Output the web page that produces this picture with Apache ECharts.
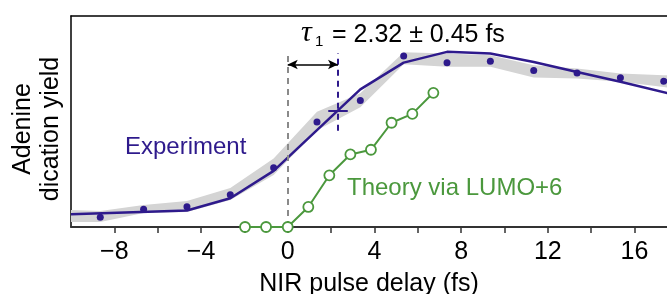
<!DOCTYPE html>
<html>
<head>
<meta charset="utf-8">
<script src="https://cdn.jsdelivr.net/npm/echarts@6/dist/echarts.min.js"></script>
<style>
  html, body { margin: 0; padding: 0; background: #fff; }
  #chart { width: 667px; height: 294px; }
</style>
</head>
<body>
<div id="chart"></div>
<script>
// delays (fs) and yields, yield scaled 0..1 to the plot box
const expX = [-8.65, -6.65, -4.65, -2.65, -0.65, 1.35, 3.35, 5.35, 7.35, 9.35, 11.35, 13.35, 15.35, 17.35];
const expY = [0.046, 0.084, 0.096, 0.153, 0.281, 0.498, 0.600, 0.811, 0.779, 0.786, 0.742, 0.730, 0.707, 0.691];

const fitX = [-10, -4.65, -2.65, -0.65, 3.35, 5.35, 7.35, 9.35, 11.35, 13.35, 15.35, 17.6];
const fitY = [0.060, 0.078, 0.136, 0.266, 0.652, 0.779, 0.830, 0.822, 0.782, 0.735, 0.688, 0.633];

const bandX = [-10, -8.65, -6.65, -4.65, -2.65, -0.65, 1.35, 3.35, 5.35, 7.35, 9.35, 11.35, 13.35, 15.35, 17.35, 17.6];
const bandLo = [0.024, 0.024, 0.066, 0.071, 0.128, 0.246, 0.459, 0.568, 0.771, 0.759, 0.759, 0.708, 0.704, 0.688, 0.664, 0.660];
const bandHi = [0.080, 0.076, 0.104, 0.123, 0.185, 0.325, 0.546, 0.634, 0.828, 0.822, 0.814, 0.767, 0.751, 0.727, 0.719, 0.720];

const theoryX = [-1.97, -1, 0, 0.95, 1.92, 2.89, 3.84, 4.79, 5.75, 6.72];
const theoryY = [0, 0, 0, 0.095, 0.245, 0.344, 0.366, 0.494, 0.536, 0.636];

const tau = 2.32;
const tauErr = 0.45;
const tauY = 0.553;
const arrowY = 0.77;
const dashTop = 0.824;
const tauDashBottom = 0.456;

const xMin = -10, xMax = 17.5, xStep = 2;

const BLUE = '#2e1a8c';
const GREEN = '#4b983d';
const FONT = 'Liberation Sans, Arial, sans-serif';

const chart = echarts.init(document.getElementById('chart'));

const option = {
  animation: false,
  grid: { left: 71, right: 0, top: 16, bottom: 67, outerBoundsMode: 'none', containLabel: false },
  xAxis: [
    {
      type: 'value',
      min: xMin,
      max: xMax,
      interval: xStep,
      name: 'NIR pulse delay (fs)',
      nameLocation: 'middle',
      nameGap: 45,
      nameTextStyle: { fontFamily: FONT, fontSize: 25, color: '#000' },
      axisLine: { onZero: false, lineStyle: { color: '#333', width: 2 } },
      axisTick: { show: true, inside: false, length: 6, lineStyle: { color: '#333', width: 1.5 } },
      axisLabel: {
        fontFamily: FONT, fontSize: 25, color: '#000', margin: 13,
        showMinLabel: false, showMaxLabel: false,
        formatter: v => (v % 4 === 0 ? String(v).replace('-', '\u2212') : '')
      },
      splitLine: { show: false }
    },
    {
      type: 'value',
      position: 'top',
      min: xMin,
      max: xMax,
      axisLine: { show: true, onZero: false, lineStyle: { color: '#000', width: 1.5 } },
      axisTick: { show: false },
      axisLabel: { show: false },
      splitLine: { show: false }
    }
  ],
  yAxis: {
    type: 'value',
    min: 0,
    max: 1,
    axisLine: { show: true, onZero: false, lineStyle: { color: '#000', width: 1.5 } },
    axisTick: { show: false },
    axisLabel: { show: false },
    splitLine: { show: false }
  },
  graphic: [
    {
      type: 'text', x: 37, y: 129, rotation: Math.PI / 2,
      style: {
        text: 'Adenine\ndication yield', fontFamily: FONT, fontSize: 25, lineHeight: 28,
        fill: '#000', align: 'center', verticalAlign: 'middle'
      }
    },
    {
      type: 'text', x: 301, y: 33,
      style: { text: '\u03c4', fontFamily: 'Liberation Serif, serif', fontStyle: 'italic', fontSize: 30, fill: '#000', align: 'left', verticalAlign: 'middle' }
    },
    {
      type: 'text', x: 315, y: 42,
      style: { text: '1', fontFamily: FONT, fontSize: 15, fill: '#000', align: 'left', verticalAlign: 'middle' }
    },
    {
      type: 'text', x: 332, y: 35,
      style: { text: '= ' + tau.toFixed(2) + ' \u00b1 ' + tauErr.toFixed(2) + ' fs', fontFamily: FONT, fontSize: 25, fill: '#000', align: 'left', verticalAlign: 'middle' }
    },
    {
      type: 'text', x: 125, y: 147,
      style: { text: 'Experiment', fontFamily: FONT, fontSize: 24, fill: BLUE, align: 'left', verticalAlign: 'middle' }
    },
    {
      type: 'text', x: 347, y: 188,
      style: { text: 'Theory via LUMO+6', fontFamily: FONT, fontSize: 24, fill: GREEN, align: 'left', verticalAlign: 'middle' }
    }
  ],
  series: [
    {
      name: 'band',
      type: 'custom',
      silent: true,
      clip: true,
      data: [[bandX[0], bandLo[0]]],
      renderItem: (params, api) => {
        const pts = [];
        for (let i = 0; i < bandX.length; i++) pts.push(api.coord([bandX[i], bandHi[i]]));
        for (let i = bandX.length - 1; i >= 0; i--) pts.push(api.coord([bandX[i], bandLo[i]]));
        return { type: 'polygon', shape: { points: pts }, style: { fill: '#d4d4d4' } };
      }
    },
    {
      name: 'marks',
      type: 'line',
      data: [],
      silent: true,
      markLine: {
        silent: true,
        symbol: 'none',
        label: { show: false },
        data: [
          [
            { coord: [0, 0], lineStyle: { color: '#8a8a8a', width: 2, type: [6, 5] } },
            { coord: [0, dashTop] }
          ],
          [
            { coord: [tau, tauDashBottom], lineStyle: { color: BLUE, width: 2, type: [6, 5] } },
            { coord: [tau, dashTop] }
          ],
          [
            { coord: [tau - tauErr, tauY], lineStyle: { color: BLUE, width: 2, type: 'solid' } },
            { coord: [tau + tauErr, tauY] }
          ],
          [
            { coord: [0, arrowY], symbol: 'arrow', symbolSize: [7, 10], lineStyle: { color: '#000', width: 1.5, type: 'solid' } },
            { coord: [tau, arrowY], symbol: 'arrow', symbolSize: [7, 10] }
          ]
        ]
      }
    },
    {
      name: 'fit',
      type: 'line',
      data: fitX.map((x, i) => [x, fitY[i]]),
      showSymbol: false,
      lineStyle: { color: BLUE, width: 2.5 },
      clip: true
    },
    {
      name: 'Experiment',
      type: 'scatter',
      data: expX.map((x, i) => [x, expY[i]]),
      symbolSize: 7,
      itemStyle: { color: BLUE, opacity: 1 }
    },
    {
      name: 'Theory via LUMO+6',
      type: 'line',
      data: theoryX.map((x, i) => [x, theoryY[i]]),
      symbol: 'circle',
      symbolSize: 10,
      showAllSymbol: true,
      lineStyle: { color: GREEN, width: 2 },
      itemStyle: { color: '#fff', borderColor: GREEN, borderWidth: 1.8 },
      z: 5
    }
  ]
};

chart.setOption(option);
</script>
</body>
</html>
